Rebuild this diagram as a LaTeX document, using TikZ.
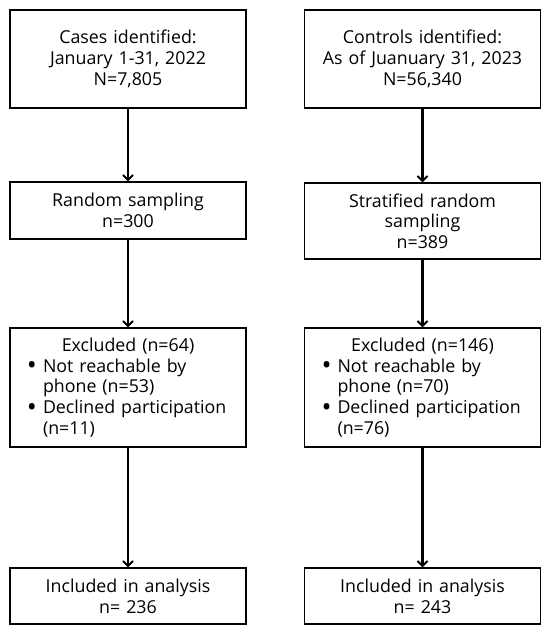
\documentclass[tikz,border=0pt]{standalone}
\usepackage{fontspec}
\setmainfont{Open Sans}
\usetikzlibrary{arrows.meta}
\tikzset{every picture/.style = {x=1pt, y=-1pt}}
\tikzset{box/.style = {draw, line width=1.2pt, minimum width=236pt, inner xsep=4pt, inner ysep=0pt, text width=228pt, align=center, font=\fontsize{17.8}{20.7}\selectfont}}
\tikzset{flow/.style = {line width=2.2pt, -{Straight Barb[length=5pt, width=10pt, line width=2pt]}}}
\newcommand\bitem{\par\noindent\hangindent=29pt\hangafter=1\hspace*{13pt}\makebox[16pt][l]{\raisebox{-2.6pt}{\scalebox{1.5}{\textbullet}}}}

\begin{document}
\begin{tikzpicture}
  \useasboundingbox (0, 0) rectangle (550, 633);
  % cases
  \node[box, minimum height=98pt] (casesId) at (128, 59)
    {Cases identified:\\ January 1-31, 2022\\ N=7,805};
  \node[box, minimum height=57pt] (casesSmp) at (128, 210.5)
    {Random sampling\\ n=300};
  \node[box, minimum height=119pt, align=left] (casesExc) at (128, 387.5)
    {{\centering Excluded (n=64)\par}
     \bitem Not reachable by\linebreak phone (n=53)
     \bitem Declined participation\linebreak (n=11)\par};
  \node[box, minimum height=56pt] (casesInc) at (128, 596)
    {Included in analysis\\ n= 236};
  % controls
  \node[box, minimum height=98pt] (ctrlId) at (422.5, 59)
    {Controls identified:\\ As of Juanuary 31, 2023\\ N=56,340};
  \node[box, minimum height=76pt] (ctrlSmp) at (422.5, 221)
    {Stratified random\\ sampling\\ n=389};
  \node[box, minimum height=119pt, align=left] (ctrlExc) at (422.5, 387.5)
    {{\centering Excluded (n=146)\par}
     \bitem Not reachable by\linebreak phone (n=70)
     \bitem Declined participation\linebreak (n=76)\par};
  \node[box, minimum height=56pt] (ctrlInc) at (422.5, 596)
    {Included in analysis\\ n= 243};
  % arrows
  \draw[flow] (casesId) -- (casesSmp);
  \draw[flow] (casesSmp) -- (casesExc);
  \draw[flow] (casesExc) -- (casesInc);
  \draw[flow] (ctrlId) -- (ctrlSmp);
  \draw[flow] (ctrlSmp) -- (ctrlExc);
  \draw[flow] (ctrlExc) -- (ctrlInc);
\end{tikzpicture}
\end{document}
